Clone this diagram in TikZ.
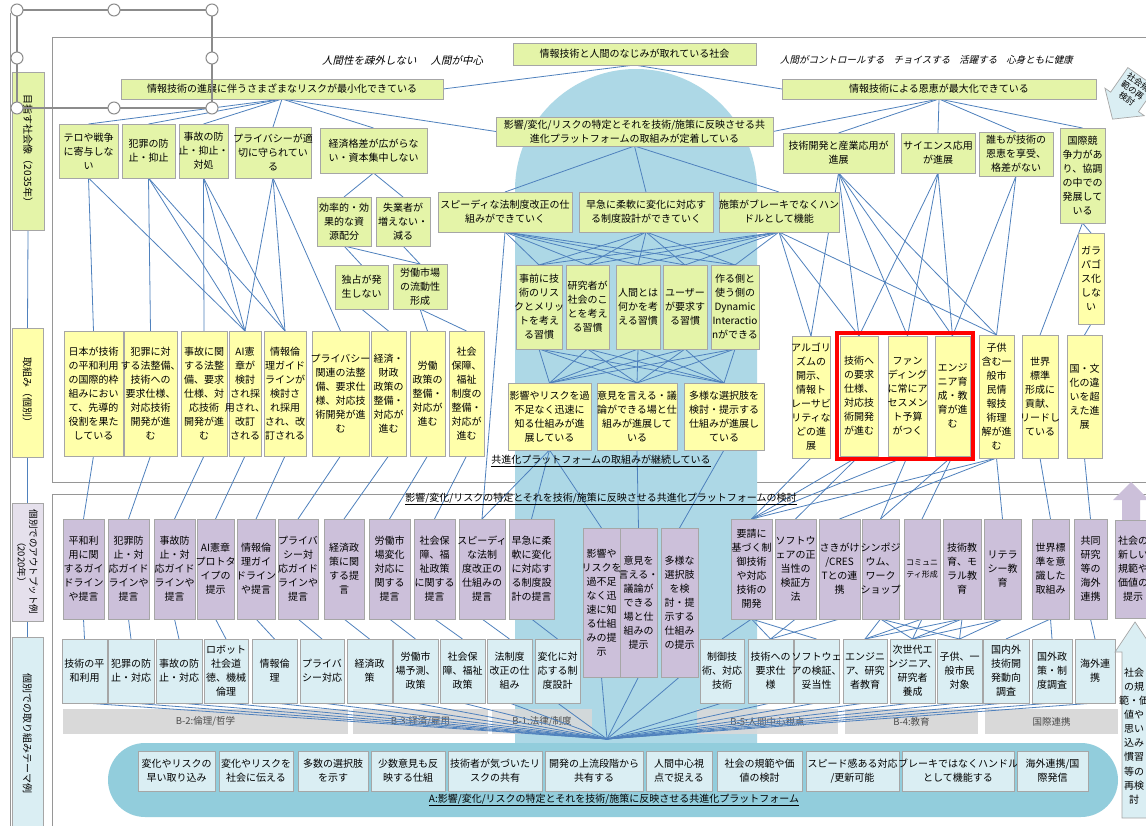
\documentclass[tikz,border=0pt]{standalone}
\usepackage{fontspec}
\setmainfont{Noto Sans CJK JP}
\newfontfamily\slantjp[FakeSlant=0.22]{Noto Sans CJK JP}

\definecolor{gfill}{HTML}{E4F4A8}
\definecolor{yfill}{HTML}{FFFFAA}
\definecolor{pfill}{HTML}{CCC0DA}
\definecolor{plight}{HTML}{E5E0EC}
\definecolor{bfill}{HTML}{DAEEF3}
\definecolor{colbg}{HTML}{ADD8E6}
\definecolor{capbg}{HTML}{92CDDC}
\definecolor{bandc}{HTML}{D9D9D9}
\definecolor{wire}{HTML}{4F81BD}
\definecolor{edge}{HTML}{A6A6A6}
\definecolor{framec}{HTML}{969696}

\pgfdeclarelayer{bg}
\pgfdeclarelayer{wires}
\pgfsetlayers{bg,wires,main}

\tikzset{
  box/.style={draw=edge, line width=0.7pt, inner xsep=1pt, inner ysep=0.5pt, outer sep=0pt,
    font=\fontsize{10}{14}\selectfont, align=center},
  fitted/.style={execute at begin node={\let\\\par\leftskip=0pt plus 1fil minus 40pt\rightskip=0pt plus 1fil minus 40pt\parfillskip=0pt\hyphenpenalty=10000\relax}},
  gbox/.style={box, fill=gfill},
  ybox/.style={box, fill=yfill},
  pbox/.style={box, fill=pfill},
  bbox/.style={box, fill=bfill},
  lbox/.style={box, rotate=-90, inner sep=1pt},
  band/.style={fill=bandc, draw=none, text=black!70, font=\fontsize{9.5}{12}\selectfont, inner sep=0pt, outer sep=0pt},
  caption/.style={font=\fontsize{10}{12}\selectfont, inner sep=1pt},
  conn/.style={draw=wire, line width=0.8pt},
  handle/.style={draw=black!45, fill=white, line width=1pt},
}

% box from corner (x1,y1) to corner (x2,y2), y growing downward
\newcommand\bx[7]{%
  \pgfmathsetmacro\bxw{#5-#3}%
  \pgfmathsetmacro\bxh{#6-#4}%
  \pgfmathsetmacro\bxt{#5-#3-2}%
  \node[#2, fitted, minimum width=\bxw pt, minimum height=\bxh pt, text width=\bxt pt]
    (#1) at ({(#3+#5)/2},{(#4+#6)/2}) {#7};}

\begin{document}
\begin{tikzpicture}[x=1pt,y=-1pt]
\useasboundingbox (0,0) rectangle (1146,825);

\begin{pgfonlayer}{bg}
  \fill[white] (0,0) rectangle (1146,825);
  % frames
  \draw[framec, line width=0.9pt] (10,13) -- (10,830);
  \draw[framec, line width=0.9pt] (52,37) rectangle (1160,482);
  \draw[framec, line width=0.9pt] (52,494) rectangle (1160,840);
  % central platform column
  \fill[colbg] (515,745) -- (515,190) .. controls (515,123.2) and (569.2,69) .. (636,69)
     .. controls (702.8,69) and (757,123.2) .. (757,190) -- (757,745) -- cycle;
  % bottom capsule
  \fill[capbg, rounded corners=37pt] (108,743) rectangle (1118,817);
  % theme bands
  \node[band, minimum width=285pt, minimum height=25pt] (bandB2) at (205.5,721.5) {B-2:倫理/哲学};
  \node[band, minimum width=135pt, minimum height=25pt] (bandB3) at (420.5,721.5) {B-3:経済/雇用};
  \node[band, fill opacity=0.85, text opacity=1, minimum width=100pt, minimum height=25pt] (bandB1) at (542,721.5) {B-1:法律/制度};
  \node[band, fill opacity=0.9, text opacity=1, minimum width=141pt, minimum height=25pt] (bandB5) at (767.5,721.5) {B-5:人間中心視点};
  \node[band, minimum width=133pt, minimum height=25pt] (bandB4) at (911.5,721.5) {B-4:教育};
  \node[band, minimum width=133pt, minimum height=25pt] (bandIC) at (1051.5,721.5) {国際連携};
\end{pgfonlayer}

% ---------- left column ----------
\node[lbox, fill=gfill, minimum width=158pt, minimum height=32pt] (L1) at (28,151) {目指す社会像（2035年）};
\node[lbox, fill=yfill, minimum width=129pt, minimum height=31pt] (L2) at (27.5,392.5) {取組み（個別）};
\node[lbox, fill=plight, minimum width=118pt, minimum height=31pt, font=\fontsize{9.5}{12}\selectfont] (L3) at (27.5,562) {個別でのアウトプット例\\（2020年）};
\node[lbox, fill=bfill, minimum width=193pt, minimum height=31pt] (L4) at (27.5,733.5) {個別での取り組みテーマ例};

% ---------- mottos ----------
\node[font=\slantjp\fontsize{10.5}{12}\selectfont, anchor=west, inner sep=0pt] (motto1) at (322,60) {人間性を疎外しない\hspace{14pt}人間が中心};
\node[font=\slantjp\fontsize{9.5}{12}\selectfont, anchor=west, inner sep=0pt] (motto2) at (780,60) {人間がコントロールする\hspace{9pt}チョイスする\hspace{9pt}活躍する\hspace{9pt}心身ともに健康};

% ---------- goals ----------
\bx{soc}{gbox}{513}{43}{756}{65}{情報技術と人間のなじみが取れている社会}
\bx{risk}{gbox}{121}{79}{443}{99}{情報技術の進展に伴うさまざまなリスクが最小化できている}
\bx{bene}{gbox}{782}{79}{1096}{99}{情報技術による恩恵が最大化できている}
\bx{plat}{gbox}{496}{117}{773}{146}{影響/変化/リスクの特定とそれを技術/施策に反映させる共\\進化プラットフォームの取組みが定着している}

% tilted block arrow: rethink social norms
\begin{scope}[shift={(1128,97)}, rotate=-35]
  \filldraw[fill=bfill, draw=edge, line width=0.7pt]
    (-17,-24) -- (17,-24) -- (17,6) -- (24,6) -- (0,27) -- (-24,6) -- (-17,6) -- cycle;
  \node[font=\fontsize{8.5}{10}\selectfont, align=center, inner sep=0pt, transform shape] (rethink) at (0,-8) {社会規\\範の再\\検討};
\end{scope}

% left branch
\bx{terro}{gbox}{59}{124}{118}{178}{テロや戦争\\に寄与しな\\い}
\bx{crime}{gbox}{122}{124}{175}{178}{犯罪の防\\止・抑止}
\bx{accid}{gbox}{179}{124}{228}{178}{事故の防\\止・抑止・\\対処}
\bx{priv}{gbox}{235}{127}{311}{178}{プライバシーが適\\切に守られてい\\る}
\bx{econ}{gbox}{320}{128}{427}{173}{経済格差が広がらな\\い・資本集中しない}
\bx{effic}{gbox}{317}{197}{371}{246}{効率的・効\\果的な資\\源配分}
\bx{unemp}{gbox}{376}{197}{430}{246}{失業者が\\増えない・\\減る}
\bx{monop}{gbox}{335}{265}{388}{309}{独占が発\\生しない}
\bx{labmk}{gbox}{393}{264}{447}{309}{労働市場\\の流動性\\形成}

% central branch
\bx{speedy}{gbox}{438}{192}{572}{232}{スピーディな法制度改正の仕\\組みができていく}
\bx{quick}{gbox}{579}{192}{713}{232}{早急に柔軟に変化に対応す\\る制度設計ができていく}
\bx{brake}{gbox}{719}{192}{839}{232}{施策がブレーキでなくハン\\ドルとして機能}
\bx{h1}{gbox}{516}{265}{562}{349}{事前に技\\術のリス\\クとメリッ\\トを考え\\る習慣}
\bx{h2}{gbox}{566}{265}{609}{349}{研究者が\\社会のこ\\とを考え\\る習慣}
\bx{h3}{gbox}{616}{265}{660}{349}{人間とは\\何かを考\\える習慣}
\bx{h4}{gbox}{663}{265}{707}{349}{ユーザー\\が要求す\\る習慣}
\bx{h5}{gbox}{711}{265}{759}{349}{作る側と\\使う側の\\Dynamic\\Interactio\\nができる}
\bx{pr1}{ybox}{508}{383}{591}{450}{影響やリスクを過\\不足なく迅速に\\知る仕組みが進\\展している}
\bx{pr2}{ybox}{597}{383}{677}{450}{意見を言える・議\\論ができる場と仕\\組みが進展して\\いる}
\bx{pr3}{ybox}{684}{383}{764}{450}{多様な選択肢を\\検討・提示する\\仕組みが進展し\\ている}

% right branch
\bx{techdev}{gbox}{783}{133}{894}{173}{技術開発と産業応用が\\進展}
\bx{sci}{gbox}{901}{133}{975}{173}{サイエンス応用\\が進展}
\bx{every}{gbox}{979}{132}{1053}{176}{誰もが技術の\\恩恵を享受、\\格差がない}
\bx{intl}{gbox}{1060}{128}{1105}{223}{国際競\\争力があ\\り、協調\\の中での\\発展して\\いる}
\bx{galap}{ybox}{1078}{233}{1104}{324}{ガラ\\パゴ\\ス化\\しな\\い}

% individual efforts (yellow)
\bx{y1}{ybox}{64}{331}{123}{456}{日本が技術\\の平和利用\\の国際的枠\\組みにおい\\て、先導的\\役割を果た\\している}
\bx{y2}{ybox}{124}{331}{177}{456}{犯罪に対\\する法整備、\\技術への\\要求仕様、\\対応技術\\開発が進\\む}
\bx{y3}{ybox}{181}{331}{227}{456}{事故に関\\する法整\\備、要求\\仕様、対\\応技術\\開発が進\\む}
\bx{y4}{ybox}{229}{331}{261}{456}{AI憲\\章が\\検討\\され採\\用され、\\改訂\\される}
\bx{y5}{ybox}{264}{331}{306}{456}{情報倫\\理ガイド\\ラインが\\検討さ\\れ採用\\され、改\\訂される}
\bx{y6}{ybox}{312}{331}{369}{456}{プライバシー\\関連の法整\\備、要求仕\\様、対応技\\術開発が進\\む}
\bx{y7}{ybox}{371}{331}{406}{456}{経済・\\財政\\政策の\\整備・\\対応が\\進む}
\bx{y8}{ybox}{410}{331}{445}{456}{労働\\政策の\\整備・\\対応が\\進む}
\bx{y9}{ybox}{449}{331}{484}{456}{社会\\保障、\\福祉\\制度の\\整備・\\対応が\\進む}
\bx{algo}{ybox}{792}{336}{830}{458}{アルゴリ\\ズムの\\開示、\\情報ト\\レーサビ\\リティな\\どの進\\展}
\bx{tr}{ybox}{840}{336}{878}{456}{技術へ\\の要求\\仕様、\\対応技\\術開発\\が進む}
\bx{fund}{ybox}{888}{336}{927}{456}{ファン\\ディング\\に常にア\\セスメン\\ト予算\\がつく}
\bx{eng}{ybox}{935}{336}{970}{456}{エンジ\\ニア育\\成・教\\育が進\\む}
\node[draw=red, line width=3.5pt, minimum width=136pt, minimum height=126pt, inner sep=0pt] (focus) at (905,396) {};
\bx{child}{ybox}{979}{335}{1014}{458}{子供\\含む一\\般市\\民情\\報技\\術理\\解が進\\む}
\bx{world}{ybox}{1022}{335}{1058}{458}{世界\\標準\\形成に\\貢献、\\リードし\\ている}
\bx{cult}{ybox}{1067}{335}{1102}{458}{国・文\\化の違\\いを超\\えた進\\展}

% captions
\node[caption] (cap1) at (601,461) {\underline{共進化プラットフォームの取組みが継続している}};
\node[caption] (cap2) at (601,499) {\underline{影響/変化/リスクの特定とそれを技術/施策に反映させる共進化プラットフォームの検討}};
\node[caption] (cap3) at (614,800) {\underline{A:影響/変化/リスクの特定とそれを技術/施策に反映させる共進化プラットフォーム}};

% outputs (lavender)
\bx{p1}{pbox}{63}{519}{104}{619}{平和利\\用に関\\するガイ\\ドライン\\や提言}
\bx{p2}{pbox}{108}{519}{149}{619}{犯罪防\\止・対\\応ガイド\\ラインや\\提言}
\bx{p3}{pbox}{154}{519}{195}{619}{事故防\\止・対\\応ガイド\\ラインや\\提言}
\bx{p4}{pbox}{197}{519}{234}{619}{AI憲章\\プロトタ\\イプの\\提示}
\bx{p5}{pbox}{237}{519}{275}{619}{情報倫\\理ガイ\\ドライン\\や提言}
\bx{p6}{pbox}{278}{519}{318}{619}{プライバ\\シー対\\応ガイド\\ラインや\\提言}
\bx{p7}{pbox}{324}{519}{364}{619}{経済政\\策に関\\する提\\言}
\bx{p8}{pbox}{369}{519}{410}{619}{労働市\\場変化\\対応に\\関する\\提言}
\bx{p9}{pbox}{414}{519}{455}{619}{社会保\\障、福\\祉政策\\に関する\\提言}
\bx{p10}{pbox}{459}{519}{505}{619}{スピーディ\\な法制\\度改正の\\仕組みの\\提言}
\bx{p11}{pbox}{509}{519}{554}{619}{早急に柔\\軟に変化\\に対応す\\る制度設\\計の提言}
\bx{p12}{pbox}{583}{528}{620}{677}{影響や\\リスクを\\過不足\\なく迅\\速に知\\る仕組\\みの提\\示}
\bx{p13}{pbox}{620}{528}{657}{677}{意見を\\言える・\\議論が\\できる\\場と仕\\組みの\\提示}
\bx{p14}{pbox}{661}{528}{698}{677}{多様な\\選択肢\\を検\\討・提\\示する\\仕組み\\の提示}
\bx{p15}{pbox}{731}{519}{772}{619}{要請に\\基づく制\\御技術\\や対応\\技術の\\開発}
\bx{p16}{pbox}{775}{519}{816}{619}{ソフトウ\\ェアの正\\当性の\\検証方\\法}
\bx{p17}{pbox}{819}{519}{860}{619}{さきがけ\\/CRES\\Tとの連\\携}
\bx{p18}{pbox}{862}{519}{899}{619}{シンポジ\\ウム、\\ワーク\\ショップ}
\bx{p19}{pbox, font=\fontsize{8}{12}\selectfont}{904}{519}{940}{619}{コミュニ\\ティ形成}
\bx{p20}{pbox}{943}{519}{981}{619}{技術教\\育、モ\\ラル教\\育}
\bx{p21}{pbox}{984}{519}{1021}{619}{リテラ\\シー教\\育}
\bx{p22}{pbox}{1032}{519}{1069}{619}{世界標\\準を意\\識した\\取組み}
\bx{p23}{pbox}{1074}{519}{1107}{619}{共同\\研究\\等の\\海外\\連携}
\fill[pfill] (1122,520) -- (1122,500) -- (1113,500) -- (1131,482) -- (1149,500) -- (1140,500) -- (1140,520) -- cycle;
\bx{p24}{pbox}{1115}{520}{1151}{618}{社会の\\新しい\\規範や\\価値の\\提示}

% themes (light blue)
\bx{b1}{bbox}{62}{639}{107}{703}{技術の平\\和利用}
\bx{b2}{bbox}{108}{639}{154}{703}{犯罪の防\\止・対応}
\bx{b3}{bbox}{156}{639}{202}{703}{事故の防\\止・対応}
\bx{b4}{bbox}{204}{639}{248}{703}{ロボット\\社会道\\徳、機械\\倫理}
\bx{b5}{bbox}{252}{639}{297}{703}{情報倫\\理}
\bx{b6}{bbox}{300}{639}{344}{703}{プライバ\\シー対応}
\bx{b7}{bbox}{347}{639}{392}{703}{経済政\\策}
\bx{b8}{bbox}{393}{639}{438}{703}{労働市\\場予測、\\政策}
\bx{b9}{bbox}{440}{639}{485}{703}{社会保\\障、福祉\\政策}
\bx{b10}{bbox}{487}{639}{532}{703}{法制度\\改正の仕\\組み}
\bx{b11}{bbox}{535}{639}{580}{703}{変化に対\\応する制\\度設計}
\bx{b12}{bbox}{700}{639}{744}{703}{制御技\\術、対応\\技術}
\bx{b13}{bbox}{748}{639}{793}{703}{技術への\\要求仕\\様}
\bx{b14}{bbox}{794}{639}{839}{703}{ソフトウェ\\アの検証、\\妥当性}
\bx{b15}{bbox}{843}{639}{887}{703}{エンジニ\\ア、研究\\者教育}
\bx{b16}{bbox}{890}{639}{935}{703}{次世代エ\\ンジニア、\\研究者\\養成}
\bx{b17}{bbox}{937}{639}{982}{703}{子供、一\\般市民\\対象}
\bx{b18}{bbox}{983}{639}{1029}{703}{国内外\\技術開\\発動向\\調査}
\bx{b19}{bbox}{1032}{639}{1072}{703}{国外政\\策・制\\度調査}
\bx{b20}{bbox}{1075}{639}{1115}{703}{海外連\\携}
\filldraw[fill=bfill, draw=edge, line width=0.7pt] (1122,818) -- (1122,652) -- (1115,652) -- (1135,622) -- (1155,652) -- (1148,652) -- (1148,818) -- cycle;
\node[font=\fontsize{10}{14.1}\selectfont, align=center, inner sep=0pt] (normtext) at (1134,736) {社会\\の規\\範・価\\値や\\思い\\込み\\慣習\\等の\\再検\\討};

% bottom platform items
\bx{c1}{bbox}{138}{751}{215}{791}{変化やリスクの\\早い取り込み}
\bx{c2}{bbox}{219}{751}{293}{791}{変化やリスクを\\社会に伝える}
\bx{c3}{bbox}{298}{751}{368}{791}{多数の選択肢\\を示す}
\bx{c4}{bbox}{371}{751}{445}{791}{少数意見も反\\映する仕組}
\bx{c5}{bbox}{448}{751}{542}{791}{技術者が気づいたリ\\スクの共有}
\bx{c6}{bbox}{545}{751}{643}{791}{開発の上流段階から\\共有する}
\bx{c7}{bbox}{646}{751}{712}{791}{人間中心視\\点で捉える}
\bx{c8}{bbox}{717}{751}{802}{791}{社会の規範や価\\値の検討}
\bx{c9}{bbox}{806}{751}{899}{791}{スピード感ある対応\\/更新可能}
\bx{c10}{bbox}{902}{751}{1014}{791}{ブレーキではなくハンドル\\として機能する}
\bx{c11}{bbox}{1017}{751}{1088}{791}{海外連携/国\\際発信}

\coordinate (hub) at (607,739);

% ---------- connectors ----------
\begin{pgfonlayer}{wires}
  \draw[conn] (L1.east) -- (L2.west);
  \draw[conn] (L2.east) -- (L3.west);
  \draw[conn] (L3.east) -- (L4.west);
  \draw[conn] (risk.east) -- (soc.south);
  \draw[conn] (bene.west) -- (soc.south);
  \draw[conn] (risk.south) -- (plat.west);
  \draw[conn] (bene.south) -- (plat.east);
  \foreach \a/\b in {risk/terro, risk/crime, risk/accid, risk/priv, risk/econ,
      bene/techdev, bene/sci, bene/every, bene/intl,
      plat/speedy, plat/quick, plat/brake,
      econ/effic, econ/unemp, effic/monop, effic/labmk, unemp/labmk,
      monop/y7, labmk/y8, labmk/y9,
      terro/y1, terro/y4, crime/y2, crime/y4, crime/y5, accid/y3, accid/y4, accid/y5,
      priv/y4, priv/y5, priv/y6,
      speedy/p10, brake/algo, brake/tr, brake/child,
      pr1/p10, pr1/p11, pr1/p12, pr2/p13, pr3/p14,
      techdev/algo, techdev/tr, techdev/fund, techdev/eng, techdev/child,
      sci/tr, sci/fund, sci/eng, every/eng, every/child,
      intl/galap, intl/world, galap/cult,
      y1/p1, y2/p2, y3/p3, y4/p4, y5/p5, y6/p6, y7/p7, y8/p8, y9/p9,
      algo/p15, tr/p15, tr/p16, fund/p15, fund/p18, eng/p18, eng/p19,
      child/p15, child/p17, child/p21, world/p22, cult/p23,
      p1/b1, p2/b2, p3/b3, p4/b4, p5/b5, p6/b6, p7/b7, p8/b8, p9/b9, p10/b10, p11/b11,
      p15/b12, p15/b13, p15/b14, p16/b13, p17/b13,
      p18/b15, p18/b16, p18/b17, p19/b15, p19/b16, p20/b15, p20/b16, p20/b17,
      p21/b16, p21/b17, p22/b18, p22/b19, p23/b20}
    {\draw[conn] (\a.south) -- (\b.north);}
  \foreach \a in {speedy, quick, brake}
    \foreach \b in {h1, h2, h3, h4, h5}
      {\draw[conn] (\a.south) -- (\b.north);}
  \foreach \a in {h1, h2, h3, h4, h5}
    \foreach \b in {pr1, pr2, pr3}
      {\draw[conn] (\a.south) -- (\b.north);}
  \foreach \a in {b1, b2, b3, b4, b5, b6, b7, b8, b9, b10, b11, p12, p13, p14,
      b12, b13, b14, b15, b16, b17, b18, b19, b20}
    {\draw[conn] (\a.south) -- (hub);}
\end{pgfonlayer}

% ---------- selection handles ----------
\draw[black!45, line width=1.2pt] (17,10) rectangle (212,108);
\foreach \hx/\hy [count=\i] in {17/10, 114/10, 212/10, 17/58, 212/58, 17/108, 114/108, 212/108}
  {\node[handle, circle, minimum size=12pt, inner sep=0pt] (handle\i) at (\hx,\hy) {};}
\end{tikzpicture}
\end{document}
